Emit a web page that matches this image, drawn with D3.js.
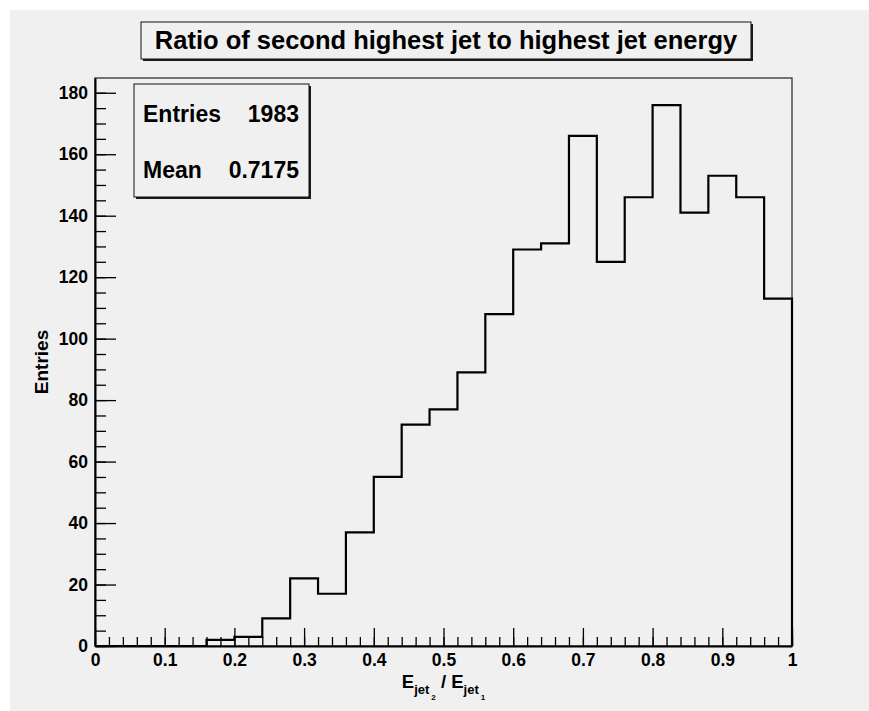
<!DOCTYPE html>
<html>
<head>
<meta charset="utf-8">
<script src="https://cdn.jsdelivr.net/npm/d3@7"></script>
<style>
  html, body { margin: 0; padding: 0; background: #ffffff; }
  svg { display: block; }
  text { font-family: "Liberation Sans", Arial, Helvetica, sans-serif; font-weight: bold; fill: #000; }
</style>
</head>
<body>
<script>
// Histogram: ratio of second-highest to highest jet energy, 25 bins on [0, 1]
const binEdgesLow = [0.00, 0.04, 0.08, 0.12, 0.16, 0.20, 0.24, 0.28, 0.32, 0.36,
                     0.40, 0.44, 0.48, 0.52, 0.56, 0.60, 0.64, 0.68, 0.72, 0.76,
                     0.80, 0.84, 0.88, 0.92, 0.96];
const binWidth = 0.04;
const binCounts = [0, 0, 0, 0, 2, 3, 9, 22, 17, 37,
                   55, 72, 77, 89, 108, 129, 131, 166, 125, 146,
                   176, 141, 153, 146, 113];
const xTickValues = [0, 0.1, 0.2, 0.3, 0.4, 0.5, 0.6, 0.7, 0.8, 0.9, 1];
const yTickValues = [0, 20, 40, 60, 80, 100, 120, 140, 160, 180];
const statsLabels = ["Entries", "Mean"];
const statsValues = ["1983", "0.7175"];
const titleText = "Ratio of second highest jet to highest jet energy";
const yTitle = "Entries";

const W = 869, H = 711;
const bg = "#f0f0f0";
const frame = { left: 95, right: 792, top: 78, bottom: 646 };

const svg = d3.select("body").append("svg").attr("width", W).attr("height", H);

// canvas
svg.append("rect").attr("x", 0).attr("y", 0).attr("width", W).attr("height", H).attr("fill", "#ffffff");
svg.append("rect").attr("x", 10).attr("y", 10).attr("width", W - 10).attr("height", H - 10).attr("fill", bg);

const yMax = d3.max(binCounts) * 1.05;
const x = d3.scaleLinear().domain([0, 1]).range([frame.left, frame.right]);
const y = d3.scaleLinear().domain([0, yMax]).range([frame.bottom, frame.top]);

// frame
svg.append("rect")
  .attr("x", frame.left).attr("y", frame.top)
  .attr("width", frame.right - frame.left).attr("height", frame.bottom - frame.top)
  .attr("fill", "none").attr("stroke", "#222").attr("stroke-width", 1.2);

// histogram outline as a step path
const pts = [[x(0), y(0)]];
binEdgesLow.forEach((lo, i) => {
  pts.push([x(lo), y(binCounts[i])]);
  pts.push([x(lo + binWidth), y(binCounts[i])]);
});
pts.push([x(1), y(0)]);
svg.append("path")
  .attr("d", d3.line()(pts))
  .attr("fill", "none").attr("stroke", "#000").attr("stroke-width", 2.2)
  .attr("stroke-linejoin", "miter");

// x axis: major ticks with labels, minor ticks every 0.02
const xMinor = d3.range(0, 1.0001, 0.02).map(v => +v.toFixed(2));
svg.append("g").attr("transform", `translate(0,${frame.bottom})`)
  .call(d3.axisBottom(x).tickValues(xMinor).tickSize(-9).tickFormat(""))
  .call(g => g.select(".domain").remove())
  .call(g => g.selectAll("line").attr("stroke", "#000").attr("stroke-width", 1.3));
const gx = svg.append("g").attr("transform", `translate(0,${frame.bottom})`)
  .call(d3.axisBottom(x).tickValues(xTickValues).tickSize(-18).tickSizeOuter(0).tickPadding(8)
    .tickFormat(d => d3.format("")(d)));
gx.select(".domain").attr("stroke", "#000").attr("stroke-width", 2);
gx.selectAll("line").attr("stroke", "#000").attr("stroke-width", 1.3);
gx.selectAll("text").attr("font-size", 17.5).attr("fill", "#000");

// y axis: major ticks every 20, minor every 5
const yMinor = d3.range(0, yMax, 5);
svg.append("g").attr("transform", `translate(${frame.left},0)`)
  .call(d3.axisLeft(y).tickValues(yMinor).tickSize(-11).tickFormat(""))
  .call(g => g.select(".domain").remove())
  .call(g => g.selectAll("line").attr("stroke", "#000").attr("stroke-width", 1.3));
const gy = svg.append("g").attr("transform", `translate(${frame.left},0)`)
  .call(d3.axisLeft(y).tickValues(yTickValues).tickSize(-21).tickSizeOuter(0).tickPadding(7));
gy.select(".domain").attr("stroke", "#000").attr("stroke-width", 2);
gy.selectAll("line").attr("stroke", "#000").attr("stroke-width", 1.3);
gy.selectAll("text").attr("font-size", 17.5).attr("fill", "#000");

// y axis title
svg.append("text")
  .attr("transform", `translate(48,${(frame.top + frame.bottom) / 2}) rotate(-90)`)
  .attr("text-anchor", "middle").attr("font-size", 19)
  .text(yTitle);

// x axis title: E_{jet_{2}} / E_{jet_{1}}
const xt = svg.append("text").attr("x", (frame.left + frame.right) / 2).attr("y", 688)
  .attr("text-anchor", "middle").attr("font-size", 18.5);
xt.append("tspan").text("E");
xt.append("tspan").attr("font-size", 13).attr("dy", 6).text("jet");
xt.append("tspan").attr("font-size", 8).attr("dy", 6).attr("dx", 2).text("2");
xt.append("tspan").attr("dy", -12).text(" / E");
xt.append("tspan").attr("font-size", 13).attr("dy", 6).text("jet");
xt.append("tspan").attr("font-size", 8).attr("dy", 6).attr("dx", 2).text("1");

// boxes with drop shadow
function pave(x0, y0, w, h) {
  svg.append("rect").attr("x", x0 + 2).attr("y", y0 + 2).attr("width", w).attr("height", h).attr("fill", "#1a1a1a");
  svg.append("rect").attr("x", x0).attr("y", y0).attr("width", w).attr("height", h)
    .attr("fill", bg).attr("stroke", "#111").attr("stroke-width", 1);
}

// title
pave(141, 22, 610, 37);
svg.append("text").attr("x", 446).attr("y", 49).attr("text-anchor", "middle")
  .attr("font-size", 25.5).text(titleText);

// statistics box
pave(134, 84, 175, 113);
statsLabels.forEach((lab, i) => {
  const by = 122 + i * 56;
  svg.append("text").attr("x", 143).attr("y", by).attr("font-size", 23).text(lab);
  svg.append("text").attr("x", 299).attr("y", by).attr("text-anchor", "end").attr("font-size", 23).text(statsValues[i]);
});
</script>
</body>
</html>
